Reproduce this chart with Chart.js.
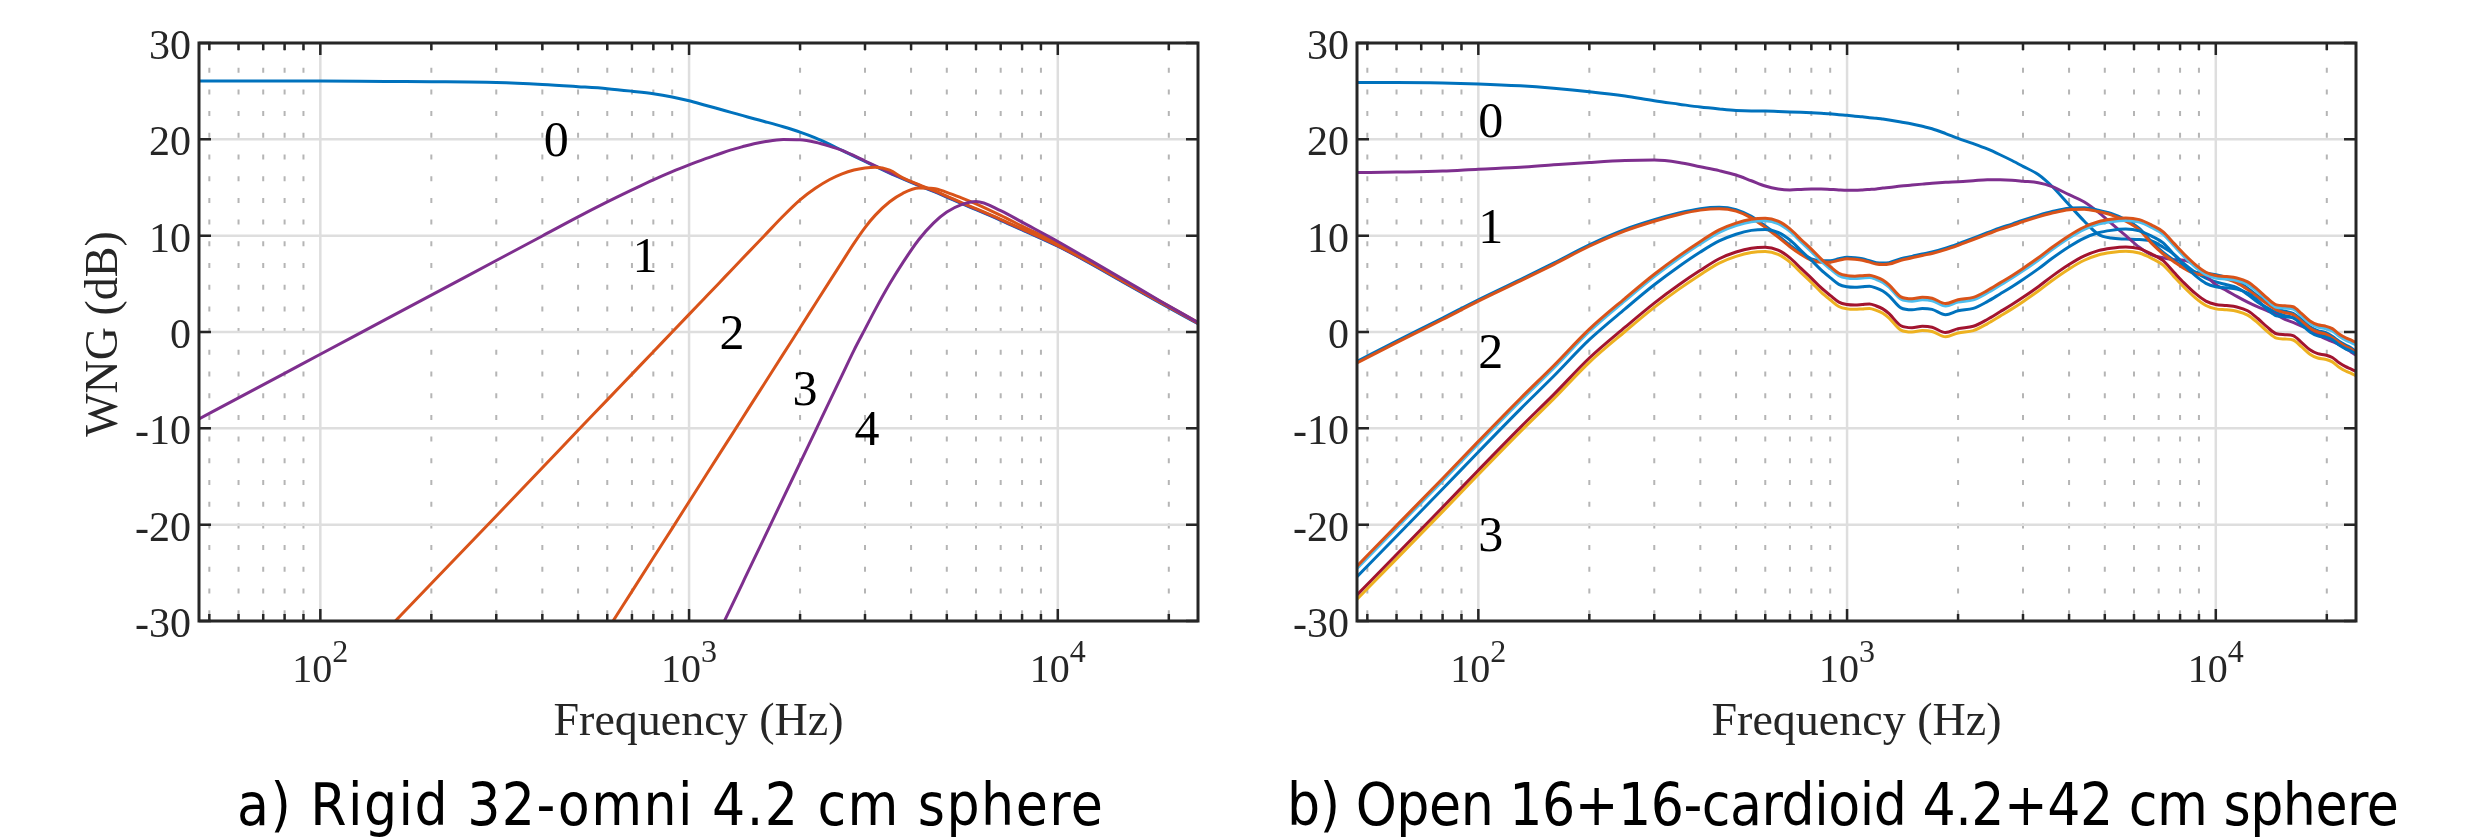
<!DOCTYPE html>
<html>
<head>
<meta charset="utf-8">
<script src="https://cdn.jsdelivr.net/npm/chart.js@4.4.1/dist/chart.umd.min.js"></script>
<style>
  html, body { margin: 0; padding: 0; background: #fff; }
  #wrap { position: relative; width: 2492px; height: 838px; overflow: hidden; }
  canvas { position: absolute; top: 0; }
  #rigid { left: 0; }
  #open { left: 1250px; }
</style>
</head>
<body>
<div id="wrap">
  <canvas id="rigid" width="1250" height="838"></canvas>
  <canvas id="open" width="1242" height="838"></canvas>
</div>
<script>
// ---- axes ----
const yTicks = [-30, -20, -10, 0, 10, 20, 30];
const xMajorTicks = [100, 1000, 10000];
const xMajorExponents = ['2', '3', '4'];
const xMinorTicks = [50, 60, 70, 80, 90, 200, 300, 400, 500, 600, 700, 800, 900,
  2000, 3000, 4000, 5000, 6000, 7000, 8000, 9000, 20000];
const xTitle = 'Frequency (Hz)';
const yTitle = 'WNG (dB)';
const captionLeft = 'a) Rigid 32-omni 4.2 cm sphere';
const captionRight = 'b) Open 16+16-cardioid 4.2+42 cm sphere';

// ---- a) rigid sphere, one curve per order ----
const freqLeft = [46.875, 60, 80, 100, 150, 200, 300, 400, 500, 600, 700, 800, 900, 1000, 1100, 1200, 1300, 1400,
  1500, 1600, 1800, 2000, 2200, 2400, 2600, 2800, 3000, 3200, 3500, 3800, 4200, 4600, 5000, 5500, 6000, 7000, 8000,
  10000, 12000, 15000, 19000, 24000];
const rigidOrder0 = [26.05, 26.05, 26.05, 26.05, 26.0, 25.98, 25.9, 25.7, 25.47, 25.26, 25.0, 24.74, 24.4, 24.0, 23.57,
  23.17, 22.8, 22.46, 22.14, 21.85, 21.3, 20.75, 20.15, 19.5, 18.85, 18.25, 17.7, 17.2, 16.5, 15.9, 15.2, 14.6, 14.0,
  13.3, 12.7, 11.6, 10.6, 8.9, 7.3, 5.2, 3.0, 0.85];
const rigidOrder1 = [-9.02, -6.84, -4.29, -2.31, 1.28, 3.83, 7.42, 9.97, 11.95, 13.5, 14.75, 15.8, 16.65, 17.35, 17.95,
  18.45, 18.9, 19.25, 19.55, 19.75, 19.98, 19.95, 19.7, 19.3, 18.85, 18.3, 17.75, 17.25, 16.55, 15.95, 15.25, 14.65,
  14.05, 13.35, 12.75, 11.65, 10.65, 8.95, 7.35, 5.25, 3.05, 0.9];
const rigidOrder2 = [null, null, null, null, -31.1, -26.1, -19.1, -14.1, -10.2, -7.05, -4.37, -2.05, 0.0, 1.83, 3.48,
  4.99, 6.39, 7.68, 8.87, 9.99, 12.04, 13.72, 14.92, 15.81, 16.42, 16.81, 17.02, 17.1, 16.8, 16.0, 15.3, 14.7, 14.1,
  13.4, 12.8, 11.7, 10.7, 9.0, 7.4, 5.3, 3.1, 0.95];
const rigidOrder3 = [null, null, null, null, null, null, null, null, -35.68, -30.94, -26.92, -23.44, -20.38, -17.62,
  -15.13, -12.86, -10.78, -8.85, -7.05, -5.37, -2.3, 0.44, 2.93, 5.2, 7.28, 9.2, 10.84, 12.13, 13.52, 14.4, 14.94,
  14.9, 14.5, 13.9, 13.3, 12.1, 11.0, 9.2, 7.5, 5.4, 3.15, 1.0];
const rigidOrder4 = [null, null, null, null, null, null, null, null, null, null, null, null, null, null, null,
  -31.33, -28.56, -25.98, -23.58, -21.34, -17.25, -13.59, -10.28, -7.26, -4.47, -1.9, 0.3, 2.35, 5.0, 7.2, 9.6, 11.3,
  12.45, 13.25, 13.55, 12.6, 11.4, 9.4, 7.65, 5.5, 3.2, 1.0];
const leftLabelText = ['0', '1', '2', '3', '4'];
const leftLabelFreq = [436, 760, 1308, 2063, 3037];
const leftLabelDb = [20, 8, 0, -5.8, -10];

// ---- b) open sphere, cardioids ----
const freqRight = [46.875, 60, 80, 100, 130, 160, 200, 250, 300, 350, 400, 450, 500, 550, 600, 650, 700, 750, 800, 850,
  900, 950, 1000, 1050, 1100, 1150, 1200, 1250, 1300, 1400, 1500, 1600, 1700, 1850, 2000, 2200, 2400, 2600, 2800, 3000,
  3300, 3600, 4000, 4400, 4800, 5200, 5700, 6200, 6700, 7200, 7700, 8200, 8800, 9400, 10000, 10700, 11400, 12200, 13000,
  13800, 14600, 15400, 16200, 17100, 18000, 18900, 19800, 20700, 21600, 22500, 23300, 24000];
const openOrder0 = [25.9, 25.9, 25.85, 25.75, 25.55, 25.3, 24.95, 24.5, 24.0, 23.65, 23.35, 23.15, 23.0, 22.95, 22.95, 22.9,
  22.85, 22.8, 22.75, 22.7, 22.65, 22.55, 22.5, 22.4, 22.35, 22.25, 22.2, 22.1, 22.0, 21.8, 21.6, 21.35, 21.1, 20.6, 20.1,
  19.55, 19.0, 18.4, 17.8, 17.2, 16.35, 15.1, 13.2, 11.5, 10.15, 9.75, 9.65, 9.6, 9.45, 8.8, 8.05, 7.1, 6.2, 5.6, 5.2, 4.9,
  4.6, 3.9, 3.1, 2.5, 2.0, 1.7, 1.5, 0.9, 0.2, -0.2, -0.4, -0.8, -1.3, -1.6, -1.8, -2.1];
const openOrder1a = [16.55, 16.6, 16.7, 16.9, 17.1, 17.35, 17.6, 17.8, 17.85, 17.6, 17.15, 16.75, 16.3, 15.7, 15.15, 14.85,
  14.75, 14.8, 14.85, 14.85, 14.8, 14.75, 14.72, 14.72, 14.75, 14.8, 14.85, 14.95, 15.0, 15.15, 15.25, 15.35, 15.45, 15.55,
  15.6, 15.7, 15.8, 15.8, 15.75, 15.65, 15.5, 15.1, 14.25, 13.5, 12.45, 11.3, 10.0, 8.8, 8.0, 7.7, 7.5, 7.45, 6.9, 5.9, 4.9,
  4.3, 3.7, 3.1, 2.6, 2.2, 1.8, 1.3, 1.0, 0.6, 0.2, -0.3, -0.7, -1.0, -1.3, -1.7, -2.1, -2.4];
const openOrder1b = [-3.05, -0.95, 1.45, 3.35, 5.45, 7.15, 9.05, 10.65, 11.65, 12.35, 12.8, 12.95, 12.7, 12.0, 11.0, 10.0,
  9.0, 8.2, 7.6, 7.4, 7.4, 7.6, 7.75, 7.7, 7.6, 7.4, 7.2, 7.15, 7.2, 7.6, 7.85, 8.1, 8.3, 8.7, 9.15, 9.75, 10.3, 10.8, 11.2,
  11.6, 12.1, 12.5, 12.85, 12.9, 12.65, 12.3, 11.65, 10.75, 9.35, 8.25, 7.45, 6.75, 6.2, 6.1, 5.95, 5.65, 5.25, 4.55, 3.75,
  3.05, 2.45, 2.15, 1.95, 1.25, 0.55, 0.15, -0.05, -0.45, -0.95, -1.35, -1.65, -2.05];
const openOrder1c = [-3.2, -1.1, 1.3, 3.2, 5.3, 7.0, 8.9, 10.5, 11.5, 12.2, 12.65, 12.8, 12.55, 11.85, 10.85, 9.85, 8.85,
  8.05, 7.45, 7.25, 7.25, 7.45, 7.6, 7.55, 7.45, 7.25, 7.05, 7.0, 7.05, 7.45, 7.7, 7.95, 8.15, 8.55, 9.0, 9.6, 10.15, 10.65,
  11.05, 11.45, 11.95, 12.35, 12.7, 12.75, 12.5, 12.15, 11.5, 10.6, 9.2, 8.1, 7.3, 6.6, 6.05, 5.95, 5.8, 5.5, 5.1, 4.4, 3.6,
  2.9, 2.3, 2.0, 1.8, 1.1, 0.4, 0.0, -0.2, -0.6, -1.1, -1.5, -1.8, -2.2];
const openOrder2a = [-24.3, -20.1, -15.2, -11.35, -6.9, -3.5, 0.3, 3.5, 6.0, 7.9, 9.4, 10.6, 11.3, 11.7, 11.8, 11.5, 10.7,
  9.6, 8.6, 7.6, 6.8, 6.1, 5.85, 5.8, 5.85, 5.9, 5.7, 5.4, 4.9, 3.65, 3.45, 3.6, 3.5, 2.95, 3.35, 3.6, 4.3, 5.1, 5.85, 6.6,
  7.7, 8.8, 10.0, 10.9, 11.45, 11.7, 11.83, 11.66, 11.1, 10.4, 9.2, 8.1, 7.0, 6.2, 5.85, 5.75, 5.6, 5.2, 4.4, 3.5, 2.82,
  2.72, 2.62, 1.9, 1.15, 0.75, 0.62, 0.35, -0.2, -0.6, -0.85, -1.1];
const openOrder2b = [-24.55, -20.35, -15.45, -11.6, -7.15, -3.75, 0.05, 3.25, 5.75, 7.65, 9.15, 10.35, 11.05, 11.45, 11.55,
  11.25, 10.45, 9.35, 8.35, 7.35, 6.55, 5.85, 5.6, 5.55, 5.6, 5.65, 5.45, 5.15, 4.65, 3.4, 3.2, 3.35, 3.25, 2.7, 3.1, 3.35,
  4.05, 4.85, 5.6, 6.35, 7.45, 8.55, 9.75, 10.65, 11.2, 11.45, 11.58, 11.41, 10.85, 10.15, 8.95, 7.85, 6.75, 5.95, 5.6, 5.5,
  5.35, 4.95, 4.15, 3.25, 2.57, 2.47, 2.37, 1.65, 0.9, 0.5, 0.37, 0.1, -0.45, -0.85, -1.1, -1.35];
const openOrder2c = [-25.4, -21.2, -16.3, -12.45, -8.0, -4.6, -0.8, 2.4, 4.9, 6.8, 8.3, 9.45, 10.15, 10.55, 10.65, 10.35,
  9.55, 8.45, 7.45, 6.45, 5.65, 4.95, 4.7, 4.65, 4.7, 4.75, 4.55, 4.25, 3.75, 2.5, 2.3, 2.45, 2.35, 1.8, 2.2, 2.45, 3.15,
  3.95, 4.7, 5.45, 6.55, 7.65, 8.85, 9.75, 10.3, 10.55, 10.68, 10.5, 9.95, 9.25, 8.05, 6.95, 5.85, 5.05, 4.7, 4.6, 4.45,
  4.05, 3.25, 2.35, 1.67, 1.57, 1.47, 0.75, 0.0, -0.4, -0.53, -0.8, -1.35, -1.75, -2.0, -2.25];
const openOrder2d = [-27.3, -23.1, -18.2, -14.35, -9.9, -6.5, -2.7, 0.5, 3.0, 4.9, 6.4, 7.6, 8.3, 8.7, 8.8, 8.5, 7.7, 6.6,
  5.6, 4.6, 3.8, 3.1, 2.85, 2.8, 2.85, 2.9, 2.7, 2.4, 1.9, 0.65, 0.45, 0.6, 0.5, -0.05, 0.35, 0.6, 1.3, 2.1, 2.85, 3.6, 4.7,
  5.8, 7.0, 7.9, 8.45, 8.7, 8.83, 8.66, 8.1, 7.4, 6.2, 5.1, 4.0, 3.2, 2.85, 2.75, 2.6, 2.2, 1.4, 0.5, -0.18, -0.28, -0.38,
  -1.1, -1.85, -2.25, -2.38, -2.65, -3.2, -3.6, -3.85, -4.1];
const openOrder2e = [-27.75, -23.55, -18.65, -14.8, -10.35, -6.95, -3.15, 0.05, 2.55, 4.45, 5.95, 7.15, 7.85, 8.25, 8.35,
  8.05, 7.25, 6.15, 5.15, 4.15, 3.35, 2.65, 2.4, 2.35, 2.4, 2.45, 2.25, 1.95, 1.45, 0.2, 0.0, 0.15, 0.05, -0.5, -0.1, 0.15,
  0.85, 1.65, 2.4, 3.15, 4.25, 5.35, 6.55, 7.45, 8.0, 8.25, 8.38, 8.2, 7.65, 6.95, 5.75, 4.65, 3.55, 2.75, 2.4, 2.3, 2.15,
  1.75, 0.95, 0.05, -0.63, -0.73, -0.83, -1.55, -2.3, -2.7, -2.83, -3.1, -3.65, -4.05, -4.3, -4.55];
const rightLabelText = ['0', '1', '2', '3'];
const rightLabelFreq = [108, 108, 108, 108];
const rightLabelDb = [22, 11, -2, -21];

const C = { blue: '#0072BD', orange: '#D95319', yellow: '#EDB120', purple: '#7E2F8E',
  lightblue: '#4DBEEE', darkred: '#A2142F' };
const INK = '#262626';
const SERIF = '"Liberation Serif", "Times New Roman", serif';

const axisPlugin = {
  id: 'matlabAxes',
  beforeDatasetsDraw(chart, args, o) {
    const { ctx, chartArea: a, scales: { x, y } } = chart;
    ctx.save();
    // dotted minor grid
    ctx.lineWidth = 2;
    ctx.strokeStyle = '#b5b5b5';
    ctx.setLineDash([5, 16.7]);
    ctx.lineDashOffset = 18.7;
    xMinorTicks.forEach(f => {
      const px = x.getPixelForValue(f);
      ctx.beginPath(); ctx.moveTo(px, a.top); ctx.lineTo(px, a.bottom); ctx.stroke();
    });
    ctx.setLineDash([]);
    // major grid
    ctx.strokeStyle = '#dedede';
    ctx.lineWidth = 2.5;
    xMajorTicks.forEach(f => {
      const px = x.getPixelForValue(f);
      ctx.beginPath(); ctx.moveTo(px, a.top); ctx.lineTo(px, a.bottom); ctx.stroke();
    });
    yTicks.forEach(v => {
      const py = y.getPixelForValue(v);
      ctx.beginPath(); ctx.moveTo(a.left, py); ctx.lineTo(a.right, py); ctx.stroke();
    });
    ctx.restore();
  },
  afterDatasetsDraw(chart, args, o) {
    const { ctx, chartArea: a, scales: { x, y } } = chart;
    ctx.save();
    ctx.strokeStyle = INK;
    ctx.lineWidth = 2.5;
    ctx.beginPath();
    xMinorTicks.forEach(f => {
      const px = x.getPixelForValue(f);
      ctx.moveTo(px, a.bottom); ctx.lineTo(px, a.bottom - 7);
      ctx.moveTo(px, a.top); ctx.lineTo(px, a.top + 7);
    });
    xMajorTicks.forEach(f => {
      const px = x.getPixelForValue(f);
      ctx.moveTo(px, a.bottom); ctx.lineTo(px, a.bottom - 12);
      ctx.moveTo(px, a.top); ctx.lineTo(px, a.top + 12);
    });
    yTicks.forEach(v => {
      const py = y.getPixelForValue(v);
      ctx.moveTo(a.left, py); ctx.lineTo(a.left + 12, py);
      ctx.moveTo(a.right, py); ctx.lineTo(a.right - 12, py);
    });
    ctx.stroke();
    ctx.lineWidth = 3;
    ctx.strokeRect(a.left, a.top, a.right - a.left, a.bottom - a.top);

    ctx.fillStyle = INK;
    ctx.textBaseline = 'alphabetic';
    // y tick labels
    ctx.font = '42px ' + SERIF;
    ctx.textAlign = 'right';
    yTicks.forEach(v => ctx.fillText(String(v), a.left - 8, y.getPixelForValue(v) + 16));
    // x tick labels 10^n
    ctx.textAlign = 'left';
    xMajorTicks.forEach((f, i) => {
      const px = x.getPixelForValue(f);
      ctx.font = '40px ' + SERIF;
      const wb = ctx.measureText('10').width;
      ctx.font = '32px ' + SERIF;
      const ws = ctx.measureText(xMajorExponents[i]).width;
      const x0 = px - (wb + ws) / 2;
      ctx.font = '40px ' + SERIF;
      ctx.fillText('10', x0, 682);
      ctx.font = '32px ' + SERIF;
      ctx.fillText(xMajorExponents[i], x0 + wb, 662);
    });
    // axis titles
    ctx.font = '46px ' + SERIF;
    ctx.textAlign = 'center';
    ctx.fillText(xTitle, (a.left + a.right) / 2, 735);
    if (o.showYTitle) {
      ctx.save();
      ctx.translate(117, 334);
      ctx.rotate(-Math.PI / 2);
      ctx.fillText(yTitle, 0, 0);
      ctx.restore();
    }
    // order labels
    ctx.fillStyle = '#000';
    ctx.font = '50px ' + SERIF;
    o.labelText.forEach((t, i) => {
      ctx.fillText(t, x.getPixelForValue(o.labelFreq[i]), y.getPixelForValue(o.labelDb[i]) + 17);
    });
    // caption, spaced to the width it has in the figure
    ctx.font = '58px "DejaVu Sans Condensed", "DejaVu Sans", sans-serif';
    try { ctx.fontStretch = 'condensed'; } catch (e) {}
    const w = ctx.measureText(o.caption).width;
    const gap = (o.captionWidth - w) / (o.caption.length - 1);
    try { ctx.letterSpacing = gap.toFixed(2) + 'px'; } catch (e) {}
    ctx.textAlign = 'left';
    const w2 = ctx.measureText(o.caption).width;
    ctx.fillText(o.caption, o.captionX - (w2 - (ctx.letterSpacing ? gap : 0)) / 2, 825);
    ctx.restore();
  }
};

function makeChart(id, freqs, series, opts) {
  return new Chart(document.getElementById(id), {
    type: 'line',
    data: {
      datasets: series.map(s => ({
        data: freqs.map((f, i) => ({ x: f, y: s.values[i] })),
        borderColor: s.color,
        borderWidth: 3,
        pointRadius: 0,
        fill: false,
        spanGaps: false,
        cubicInterpolationMode: 'monotone'
      }))
    },
    options: {
      responsive: false,
      animation: false,
      events: [],
      layout: { padding: opts.padding },
      scales: {
        x: { type: 'logarithmic', min: 46.875, max: 24000, display: false },
        y: { type: 'linear', min: -30, max: 30, display: false }
      },
      plugins: { legend: { display: false }, tooltip: { enabled: false }, matlabAxes: opts }
    },
    plugins: [axisPlugin]
  });
}

// first dataset is drawn on top
makeChart('rigid', freqLeft, [
  { values: rigidOrder4, color: C.purple },
  { values: rigidOrder3, color: C.orange },
  { values: rigidOrder2, color: C.orange },
  { values: rigidOrder1, color: C.purple },
  { values: rigidOrder0, color: C.blue }
], {
  padding: { left: 199, right: 52, top: 43, bottom: 217 },
  showYTitle: true,
  labelText: leftLabelText, labelFreq: leftLabelFreq, labelDb: leftLabelDb,
  caption: captionLeft, captionX: 670, captionWidth: 866
});

makeChart('open', freqRight, [
  { values: openOrder2a, color: C.orange },
  { values: openOrder2b, color: C.lightblue },
  { values: openOrder2c, color: C.blue },
  { values: openOrder2d, color: C.darkred },
  { values: openOrder2e, color: C.yellow },
  { values: openOrder1c, color: C.orange },
  { values: openOrder1b, color: C.blue },
  { values: openOrder1a, color: C.purple },
  { values: openOrder0, color: C.blue }
], {
  padding: { left: 107, right: 136, top: 43, bottom: 217 },
  showYTitle: false,
  labelText: rightLabelText, labelFreq: rightLabelFreq, labelDb: rightLabelDb,
  caption: captionRight, captionX: 593, captionWidth: 1112
});
</script>
</body>
</html>
